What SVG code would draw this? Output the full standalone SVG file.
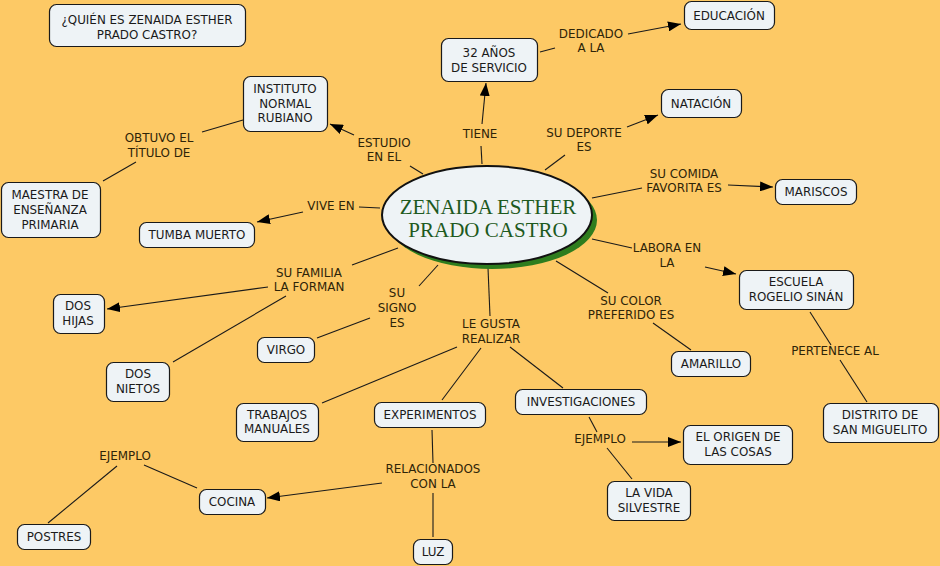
<svg xmlns="http://www.w3.org/2000/svg" width="940" height="566" viewBox="0 0 940 566">
<defs>
<marker id="arr" markerUnits="userSpaceOnUse" markerWidth="14" markerHeight="10" refX="13" refY="5" orient="auto">
<path d="M0,0 L13,5 L0,10 Z" fill="#000"/>
</marker>
<style>
.n rect{fill:#EEF3F6;stroke:#1a1a1a;stroke-width:1.2}
.n text{font-family:"DejaVu Sans",Verdana,sans-serif;font-size:11.9px;fill:#1a1a1a;text-anchor:middle}
.l{font-family:"DejaVu Sans",Verdana,sans-serif;font-size:11.9px;fill:#2e2408;text-anchor:middle}
#conn line{stroke:#1a1a1a;stroke-width:1.1}
#conn line.a{marker-end:url(#arr)}
</style>
</defs>
<rect width="940" height="566" fill="#FDC965"/>

<g id="conn">
<line x1="423" y1="174" x2="410" y2="166"/>
<line class="a" x1="354" y1="135" x2="330" y2="124"/>
<line x1="243" y1="120" x2="202" y2="132"/>
<line x1="136" y1="162" x2="103" y2="181"/>
<line x1="482" y1="164" x2="481" y2="146"/>
<line class="a" x1="482" y1="124" x2="486" y2="83"/>
<line x1="540" y1="52" x2="555" y2="48"/>
<line class="a" x1="628" y1="34" x2="681" y2="24"/>
<line x1="545" y1="170" x2="565" y2="155"/>
<line class="a" x1="627" y1="127" x2="658" y2="115"/>
<line x1="592" y1="198" x2="642" y2="188"/>
<line class="a" x1="728" y1="185" x2="773" y2="187"/>
<line x1="592" y1="239" x2="632" y2="248"/>
<line class="a" x1="705" y1="267" x2="736" y2="274"/>
<line x1="556" y1="261" x2="608" y2="293"/>
<line x1="653" y1="323" x2="691" y2="350"/>
<line x1="810" y1="312" x2="831" y2="345"/>
<line x1="840" y1="360" x2="867" y2="402"/>
<line x1="488" y1="268" x2="490" y2="316"/>
<line x1="457" y1="347" x2="322" y2="403"/>
<line x1="481" y1="348" x2="442" y2="400"/>
<line x1="510" y1="347" x2="563" y2="388"/>
<line x1="438" y1="265" x2="419" y2="286"/>
<line x1="370" y1="318" x2="317" y2="338"/>
<line x1="398" y1="248" x2="352" y2="265"/>
<line class="a" x1="268" y1="287" x2="107" y2="309"/>
<line x1="286" y1="296" x2="173" y2="362"/>
<line x1="380" y1="208" x2="359" y2="207"/>
<line class="a" x1="303" y1="212" x2="257" y2="222"/>
<line x1="589" y1="417" x2="597" y2="432"/>
<line class="a" x1="632" y1="442" x2="681" y2="442"/>
<line x1="607" y1="448" x2="632" y2="479"/>
<line x1="432" y1="430" x2="433" y2="463"/>
<line class="a" x1="382" y1="483" x2="267" y2="498"/>
<line x1="433" y1="493" x2="433" y2="537"/>
<line x1="197" y1="488" x2="144" y2="465"/>
<line x1="117" y1="466" x2="48" y2="523"/>
</g>

<g id="center">
<ellipse cx="492" cy="220" rx="105" ry="49" fill="#2E7D1E"/>
<ellipse cx="487" cy="215" rx="105" ry="49" fill="#EEF3F6" stroke="#111" stroke-width="2"/>
<text x="488" y="214" font-family="'Liberation Serif',serif" font-size="21" fill="#1E5A1E" text-anchor="middle">ZENAIDA ESTHER</text>
<text x="488" y="237" font-family="'Liberation Serif',serif" font-size="21" fill="#1E5A1E" text-anchor="middle">PRADO CASTRO</text>
</g>

<g id="title" class="n"><rect x="49.5" y="4.5" width="196" height="42" rx="7"/><text x="147" y="24">¿QUIÉN ES ZENAIDA ESTHER</text><text x="147" y="39">PRADO CASTRO?</text></g>
<g id="instituto" class="n"><rect x="243.5" y="76.5" width="84" height="55" rx="7"/><text x="285" y="93">INSTITUTO</text><text x="285" y="108">NORMAL</text><text x="285" y="122">RUBIANO</text></g>
<g id="maestra" class="n"><rect x="1.5" y="182.5" width="99" height="55" rx="7"/><text x="50" y="199">MAESTRA DE</text><text x="50" y="214">ENSEÑANZA</text><text x="50" y="229">PRIMARIA</text></g>
<g id="tumba" class="n"><rect x="139.5" y="222.5" width="115" height="25" rx="7"/><text x="197" y="239">TUMBA MUERTO</text></g>
<g id="anios" class="n"><rect x="441.5" y="38.5" width="96" height="43" rx="7"/><text x="489" y="57">32 AÑOS</text><text x="489" y="72">DE SERVICIO</text></g>
<g id="educacion" class="n"><rect x="684.5" y="1.5" width="90" height="28" rx="7"/><text x="729" y="20">EDUCACIÓN</text></g>
<g id="natacion" class="n"><rect x="661.5" y="89.5" width="80" height="28" rx="7"/><text x="701" y="108">NATACIÓN</text></g>
<g id="mariscos" class="n"><rect x="775.5" y="179.5" width="81" height="25" rx="7"/><text x="816" y="196">MARISCOS</text></g>
<g id="escuela" class="n"><rect x="739.5" y="270.5" width="114" height="39" rx="7"/><text x="796" y="286">ESCUELA</text><text x="796" y="301">ROGELIO SINÁN</text></g>
<g id="distrito" class="n"><rect x="823.5" y="403.5" width="115" height="39" rx="7"/><text x="880" y="419">DISTRITO DE</text><text x="880" y="434">SAN MIGUELITO</text></g>
<g id="amarillo" class="n"><rect x="671.5" y="351.5" width="79" height="25" rx="7"/><text x="711" y="368">AMARILLO</text></g>
<g id="hijas" class="n"><rect x="53.5" y="294.5" width="51" height="39" rx="7"/><text x="78" y="310">DOS</text><text x="78" y="325">HIJAS</text></g>
<g id="nietos" class="n"><rect x="106.5" y="362.5" width="63" height="39" rx="7"/><text x="138" y="378">DOS</text><text x="138" y="393">NIETOS</text></g>
<g id="virgo" class="n"><rect x="257.5" y="337.5" width="57" height="25" rx="7"/><text x="286" y="354">VIRGO</text></g>
<g id="trabajos" class="n"><rect x="236.5" y="403.5" width="82" height="38" rx="7"/><text x="277" y="419">TRABAJOS</text><text x="277" y="433">MANUALES</text></g>
<g id="experimentos" class="n"><rect x="374.5" y="402.5" width="111" height="25" rx="7"/><text x="430" y="419">EXPERIMENTOS</text></g>
<g id="investigaciones" class="n"><rect x="515.5" y="389.5" width="131" height="25" rx="7"/><text x="581" y="406">INVESTIGACIONES</text></g>
<g id="origen" class="n"><rect x="683.5" y="425.5" width="109" height="39" rx="7"/><text x="738" y="441">EL ORIGEN DE</text><text x="738" y="456">LAS COSAS</text></g>
<g id="vida" class="n"><rect x="607.5" y="481.5" width="83" height="39" rx="7"/><text x="649" y="497">LA VIDA</text><text x="649" y="512">SILVESTRE</text></g>
<g id="cocina" class="n"><rect x="199.5" y="489.5" width="66" height="25" rx="7"/><text x="232" y="506">COCINA</text></g>
<g id="postres" class="n"><rect x="17.5" y="524.5" width="73" height="25" rx="7"/><text x="54" y="541">POSTRES</text></g>
<g id="luz" class="n"><rect x="413.5" y="539.5" width="39" height="25" rx="7"/><text x="433" y="556">LUZ</text></g>

<g id="labels">
<text class="l" x="384" y="147">ESTUDIO</text><text class="l" x="384" y="161">EN EL</text>
<text class="l" x="480" y="138">TIENE</text>
<text class="l" x="591" y="38">DEDICADO</text><text class="l" x="591" y="52">A LA</text>
<text class="l" x="584" y="137">SU DEPORTE</text><text class="l" x="584" y="151">ES</text>
<text class="l" x="684" y="178">SU COMIDA</text><text class="l" x="684" y="192">FAVORITA ES</text>
<text class="l" x="667" y="252">LABORA EN</text><text class="l" x="667" y="267">LA</text>
<text class="l" x="835" y="355">PERTENECE AL</text>
<text class="l" x="631" y="305">SU COLOR</text><text class="l" x="631" y="319">PREFERIDO ES</text>
<text class="l" x="491" y="328">LE GUSTA</text><text class="l" x="491" y="343">REALIZAR</text>
<text class="l" x="397" y="297">SU</text><text class="l" x="397" y="312">SIGNO</text><text class="l" x="397" y="327">ES</text>
<text class="l" x="309" y="277">SU FAMILIA</text><text class="l" x="309" y="291">LA FORMAN</text>
<text class="l" x="331" y="210">VIVE EN</text>
<text class="l" x="159" y="142">OBTUVO EL</text><text class="l" x="159" y="157">TÍTULO DE</text>
<text class="l" x="600" y="443">EJEMPLO</text>
<text class="l" x="125" y="460">EJEMPLO</text>
<text class="l" x="433" y="473">RELACIONADOS</text><text class="l" x="433" y="488">CON LA</text>
</g>
</svg>
